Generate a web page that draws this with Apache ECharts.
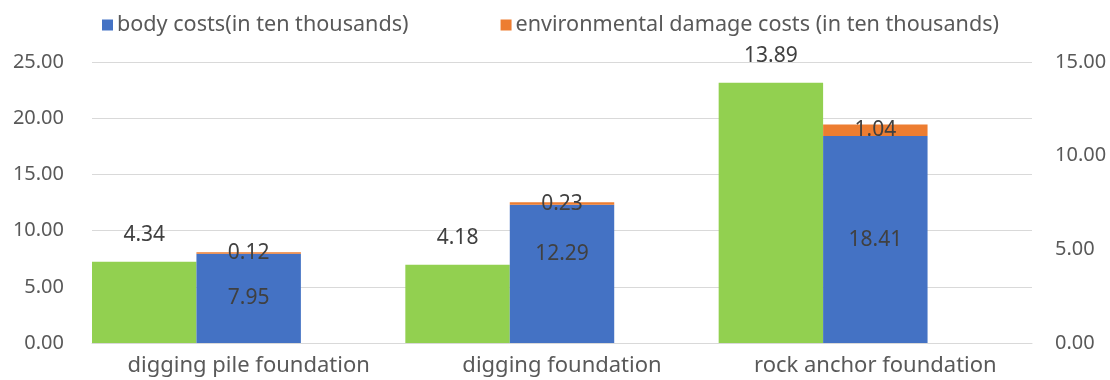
<!DOCTYPE html>
<html>
<head>
<meta charset="utf-8">
<script src="https://cdn.jsdelivr.net/npm/echarts@6/dist/echarts.min.js"></script>
<style>
  html, body { margin: 0; padding: 0; background: #fff; }
  #chart { width: 1110px; height: 380px; }
</style>
</head>
<body>
<div id="chart"></div>
<script>
const categories = ['digging pile foundation', 'digging foundation', 'rock anchor foundation']
const greenValues = [4.34, 4.18, 13.89]
const bodyCosts = [7.95, 12.29, 18.41]
const envCosts = [0.12, 0.23, 1.04]
const leftTicks = [0, 25, 5]
const rightTicks = [0, 15, 5]

const txt = '#595959'
const lbl = '#404040'
const font = '"Noto Sans", sans-serif'

let myChart = echarts.init(document.getElementById('chart'))
let fmt = p => p.value.toFixed(2)

let option = {
  animation: false,
  textStyle: { fontFamily: font },
  legend: {
    left: 97,
    top: 9,
    itemWidth: 11,
    itemHeight: 11,
    itemGap: 92,
    icon: 'rect',
    textStyle: { color: txt, fontSize: 21.6, fontFamily: font, padding: [0, 0, 0, -1] },
    data: ['body costs(in ten thousands)', 'environmental damage costs (in ten thousands)']
  },
  grid: { left: 92, right: 78, top: 62, bottom: 37, containLabel: false },
  xAxis: {
    type: 'category',
    data: categories,
    axisLine: { lineStyle: { color: '#d9d9d9', width: 1 } },
    axisTick: { show: false },
    axisLabel: { interval: 0, color: txt, fontSize: 22, fontFamily: font, margin: 12 }
  },
  yAxis: [
    {
      type: 'value',
      min: leftTicks[0], max: leftTicks[1], interval: leftTicks[2],
      axisLine: { show: false },
      axisTick: { show: false },
      splitLine: { lineStyle: { color: '#d9d9d9', width: 1 } },
      axisLabel: { color: txt, fontSize: 20, fontFamily: font, margin: 28, formatter: v => v.toFixed(2) }
    },
    {
      type: 'value',
      min: rightTicks[0], max: rightTicks[1], interval: rightTicks[2],
      axisLine: { show: false },
      axisTick: { show: false },
      splitLine: { show: false },
      axisLabel: { color: txt, fontSize: 20, fontFamily: font, margin: 23, formatter: v => v.toFixed(2) }
    }
  ],
  series: [
    {
      name: 'green',
      type: 'bar',
      yAxisIndex: 1,
      barGap: '0%',
      barCategoryGap: '0%',
      itemStyle: { color: '#92d050' },
      label: { show: true, position: 'top', distance: 16, color: lbl, fontSize: 21, fontFamily: font, formatter: fmt },
      data: greenValues
    },
    {
      name: 'body costs(in ten thousands)',
      type: 'bar',
      stack: 'cost',
      yAxisIndex: 0,
      itemStyle: { color: '#4472c4' },
      label: { show: true, position: 'inside', color: lbl, fontSize: 21, fontFamily: font, formatter: fmt },
      data: bodyCosts.map((v, i) => i === 1 ? { value: v, label: { offset: [0, -20] } } : v)
    },
    {
      name: 'environmental damage costs (in ten thousands)',
      type: 'bar',
      stack: 'cost',
      yAxisIndex: 0,
      itemStyle: { color: '#ed7d31' },
      label: { show: true, position: 'inside', color: lbl, fontSize: 21, fontFamily: font, formatter: fmt },
      data: envCosts
    },
    {
      name: 'spacer',
      type: 'bar',
      yAxisIndex: 0,
      data: [null, null, null]
    }
  ]
}
myChart.setOption(option)
</script>
</body>
</html>
